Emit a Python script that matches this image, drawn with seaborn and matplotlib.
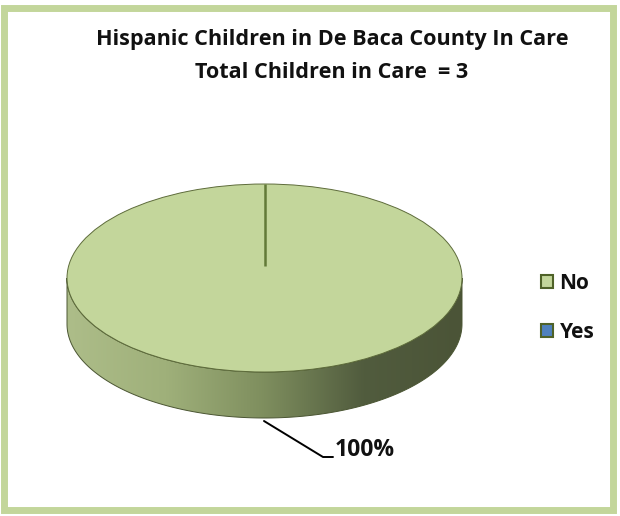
import numpy as np
import matplotlib
matplotlib.use('Agg')
import matplotlib.pyplot as plt
from matplotlib.patches import Patch, Rectangle, Polygon
from matplotlib.colors import LinearSegmentedColormap
import seaborn as sns

# data
categories = ['No', 'Yes']
counts = [3, 0]
title_lines = ['Hispanic Children in De Baca County In Care',
               'Total Children in Care  = 3']

top_colors = ['#c3d69b', '#4f81bd']
edge_dark = '#4f6228'

sns.set_style('white')
plt.rcParams['font.family'] = ['Open Sans', 'DejaVu Sans']
plt.rcParams['text.color'] = '#111111'

W, H = 620, 516
fig = plt.figure(figsize=(W / 100, H / 100), dpi=100)
ax = fig.add_axes([0, 0, 1, 1])

# pie geometry in pixels
cx, cy, rx, ry, depth = 264.5, 278, 197.5, 94, 46
d = depth / ry

wedges, _ = ax.pie(counts, colors=top_colors, startangle=90, counterclock=False,
                   radius=1, center=(0, 0),
                   wedgeprops=dict(edgecolor='#5d6b3a', linewidth=0.7))
for w, c in zip(wedges, counts):
    w.set_zorder(3)
    if c == 0:
        w.set_linewidth(0)
ax.set_aspect('auto')
ax.set_xlim(-cx / rx, (W - cx) / rx)
ax.set_ylim(-(H - cy) / ry, cy / ry)
ax.axis('off')

# side of the 3D pie with a horizontal gradient
t = np.linspace(np.pi, 2 * np.pi, 200)
upper = np.column_stack([np.cos(t), np.sin(t)])
lower = np.column_stack([np.cos(t[::-1]), np.sin(t[::-1]) - d])
side = Polygon(np.vstack([upper, lower]), closed=True, facecolor='none',
               edgecolor='#4a5532', linewidth=0.7, zorder=2)
ax.add_patch(side)
cmap = LinearSegmentedColormap.from_list('side', [
    (0.0, '#adbd89'), (0.25, '#9fb07a'), (0.5, '#7e8e5e'),
    (0.75, '#515c3e'), (1.0, '#4b5437')])
grad = np.linspace(0, 1, 256).reshape(1, -1)
img = ax.imshow(grad, cmap=cmap, extent=(-1, 1, -1 - d, 0), aspect='auto',
                zorder=1, interpolation='bilinear')
img.set_clip_path(side)

# radial line at slice boundary
a0 = np.deg2rad(90)
ax.plot([np.cos(a0), 0], [np.sin(a0), 12 / ry], color='#627a38', lw=1.8,
        zorder=4, solid_capstyle='butt')

def px(x, y):
    return ((x - cx) / rx, (cy - y) / ry)

# data label with leader line
pct = counts[0] / sum(counts)
p1, p2, p3 = px(264, 421), px(323, 457), px(333, 457)
ax.plot([p1[0], p2[0], p3[0]], [p1[1], p2[1], p3[1]], color='black', lw=1.4, zorder=5)
ax.text(*px(335, 450), f'{pct:.0%}', fontsize=16.5, fontweight='bold',
        va='center', ha='left')

# title
fig.text(332 / W, 1 - 40 / H, title_lines[0], ha='center', va='center',
         fontsize=15.6, fontweight='bold')
fig.text(332 / W, 1 - 73 / H, title_lines[1], ha='center', va='center',
         fontsize=15.6, fontweight='bold')

# legend
handles = [Patch(facecolor=c, edgecolor=edge_dark, linewidth=1.5) for c in top_colors]
fig.legend(handles, categories, loc='center left', bbox_to_anchor=(522 / W, 1 - 308 / H),
           frameon=False, handlelength=0.6, handleheight=0.6,
           handletextpad=0.3, labelspacing=1.35, prop=dict(weight='bold', size=15))

# outer border
fig.patches.append(Rectangle((3.5 / W, 6.5 / H), 609.5 / W, 502 / H,
                             transform=fig.transFigure, fill=False,
                             edgecolor='#c3d69b', linewidth=5.0))

fig.savefig('out.png', dpi=100)
